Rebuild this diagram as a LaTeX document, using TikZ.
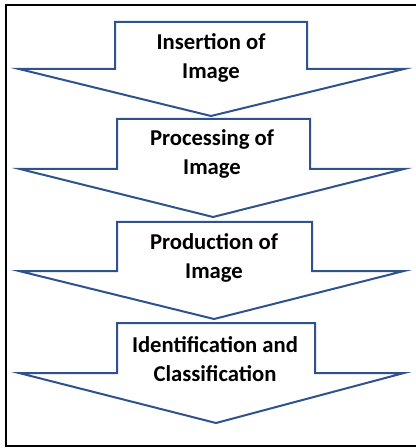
\documentclass[tikz,border=0pt]{standalone}
\usepackage{fontspec}
\setmainfont{Carlito}
\usetikzlibrary{positioning}
\definecolor{arrowblue}{RGB}{47,82,143}
\tikzset{
    blockarrow/.style = {line width=1.5pt, draw=arrowblue, fill=white, line join=miter},
    steptext/.style = {align=center, text=black, font=\bfseries\fontsize{17}{21.75}\selectfont},
    frameline/.style = {line width=1.2pt, draw=black}
}
\begin{document}
\begin{tikzpicture}[x=0.75pt, y=-0.75pt]
\path[use as bounding box] (0,0) rectangle (415,448);
\draw[frameline] (6,5) rectangle (425,446);
%
\draw[blockarrow] (115,22) -- (307,22) -- (307,69) -- (404,69) -- (211,116) -- (19,69) -- (115,69) -- cycle;
\draw[blockarrow] (117,119) -- (310,119) -- (310,169) -- (404,169) -- (213,217) -- (20,169) -- (117,169) -- cycle;
\draw[blockarrow] (117,222) -- (312,222) -- (312,271) -- (404,271) -- (214,319) -- (19,271) -- (117,271) -- cycle;
\draw[blockarrow] (117,323) -- (315,323) -- (315,373) -- (404,373) -- (216,423) -- (19,373) -- (117,373) -- cycle;
%
\node[steptext] at (211,58) (insert) {Insertion of\\Image};
\node[steptext] at (212,154) (process) {Processing of\\Image};
\node[steptext] at (214,258) (produce) {Production of\\Image};
\node[steptext] at (215,359) (classify) {Identification and\\Classification};
\end{tikzpicture}
\end{document}
